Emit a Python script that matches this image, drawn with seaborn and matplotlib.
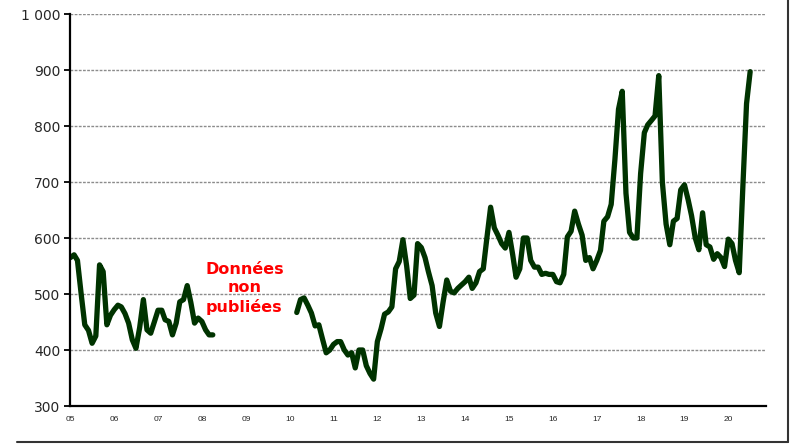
import numpy as np
import pandas as pd
import matplotlib
matplotlib.use("Agg")
import matplotlib.pyplot as plt
import matplotlib.dates as mdates
from matplotlib.ticker import FuncFormatter, MultipleLocator
from matplotlib.lines import Line2D
import seaborn as sns

# -------- DATA (monthly, None = not published) --------
v2005 = [565, 570, 560, 500, 445, 435, 412, 425, 552, 540, 445, 462]
v2006 = [472, 480, 477, 465, 448, 418, 403, 440, 490, 436, 430, 450]
v2007 = [471, 471, 454, 451, 427, 448, 486, 490, 515, 485, 448, 457]
v2008 = [451, 436, 427, 427, None, None, None, None, None, None, None, None]
v2009 = [None] * 12
v2010 = [None, None, 467, 490, 493, 480, 466, 443, 445, 420, 395, 400]
v2011 = [410, 415, 415, 400, 391, 395, 368, 400, 400, 372, 358, 348]
v2012 = [415, 438, 464, 468, 477, 545, 558, 597, 550, 492, 498, 590]
v2013 = [583, 565, 540, 515, 466, 442, 485, 525, 505, 502, 510, 516]
v2014 = [522, 530, 510, 520, 540, 545, 600, 655, 618, 605, 590, 582]
v2015 = [610, 570, 530, 545, 600, 600, 560, 548, 548, 535, 537, 535]
v2016 = [535, 522, 520, 535, 602, 612, 648, 625, 605, 560, 565, 545]
v2017 = [560, 578, 630, 638, 660, 740, 830, 862, 680, 610, 600, 600]
v2018 = [715, 788, 802, 810, 818, 890, 700, 625, 588, 630, 635, 686]
v2019 = [695, 668, 640, 600, 579, 645, 588, 584, 562, 572, 565, 549]
v2020 = [598, 590, 560, 538, 690, 840, 897]

note = "Données\nnon\npubliées"
# ------------------------------------------------------

values = (v2005 + v2006 + v2007 + v2008 + v2009 + v2010 + v2011 + v2012
          + v2013 + v2014 + v2015 + v2016 + v2017 + v2018 + v2019 + v2020)
dates = pd.date_range("2005-01-01", periods=len(values), freq="MS")
df = pd.DataFrame({"date": dates, "value": pd.array(values, dtype="float")})
df["segment"] = df["value"].isna().cumsum()
df = df.dropna()

sns.set_style("white")
plt.rcParams["font.family"] = ["DejaVu Sans"]

fig = plt.figure(figsize=(7.9, 4.44), dpi=100)
ax = fig.add_axes([70 / 790, 1 - 406 / 444, 696 / 790, 392 / 444])

sns.lineplot(data=df, x="date", y="value", units="segment", estimator=None,
             color="#003300", linewidth=3.8, ax=ax, legend=False)
for ln in ax.lines:
    ln.set_solid_capstyle("round")
    ln.set_solid_joinstyle("round")

ax.set_ylim(300, 1000)
ax.set_xlim(pd.Timestamp("2004-12-29"), pd.Timestamp("2020-11-10"))

ax.yaxis.set_major_locator(MultipleLocator(100))
ax.yaxis.set_major_formatter(FuncFormatter(lambda v, p: f"{int(v):,}".replace(",", " ")))
ax.grid(axis="y", color="#8c8c8c", linestyle=(0, (2, 1)), linewidth=1)
ax.grid(axis="x", visible=False)

ax.xaxis.set_major_locator(mdates.YearLocator())
ax.xaxis.set_minor_locator(mdates.MonthLocator(bymonth=[1, 4, 7, 10]))
ax.xaxis.set_major_formatter(mdates.DateFormatter("%y"))

ax.tick_params(axis="x", which="both", direction="inout", length=6, width=1.3,
               color="black", labelsize=6, pad=4)
ax.tick_params(axis="y", direction="out", length=4, width=1.3, color="black",
               labelsize=10, pad=3, left=True)
for lab in ax.get_xticklabels():
    lab.set_fontfamily("Liberation Sans")
ax.set_xlabel("")
ax.set_ylabel("")

for side in ["top", "right"]:
    ax.spines[side].set_visible(False)
for side in ["left", "bottom"]:
    ax.spines[side].set_color("black")
    ax.spines[side].set_linewidth(1.6)

ax.text(pd.Timestamp("2008-12-20"), 510, note, color="#ff0000", fontsize=11.5,
        fontweight="bold", ha="center", va="center", linespacing=1.3)

# partial frame around the picture
fig.add_artist(Line2D([17 / 790, 788 / 790], [1 - 442 / 444] * 2,
                      transform=fig.transFigure, color="#333333", lw=1.5))
fig.add_artist(Line2D([788 / 790] * 2, [1 - 442 / 444, 1],
                      transform=fig.transFigure, color="#333333", lw=1.5))

fig.savefig("out.png", dpi=100)
